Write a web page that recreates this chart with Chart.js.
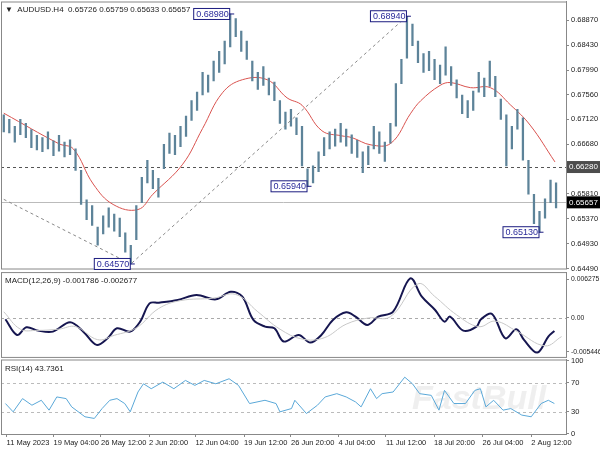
<!DOCTYPE html>
<html>
<head>
<meta charset="utf-8">
<script src="https://cdn.jsdelivr.net/npm/chart.js@4.4.0/dist/chart.umd.min.js"></script>
<style>
  body { margin: 0; background: #fff; width: 600px; height: 450px; overflow: hidden; position: relative; }
  canvas { position: absolute; left: 0; }
</style>
</head>
<body>
<canvas id="main" width="600" height="280" style="top:-5px"></canvas>
<canvas id="macd" width="600" height="97" style="top:266px"></canvas>
<canvas id="rsi" width="600" height="97" style="top:353px"></canvas>
<script>
// price bars, in pips above 0.6000 (e.g. 705 = 0.6705)
const barLow = [690,688,672,685,680,662,658,655,660,648,656,646,650,622,562,535,525,490,510,522,
  515,505,478,457,500,565,600,590,575,625,652,650,664,682,710,728,755,760,780,795,
  810,840,858,832,818,780,765,772,755,745,705,695,700,685,630,594,600,620,648,660,
  665,672,665,652,645,618,632,660,652,638,670,700,775,820,842,812,795,798,782,775,
  790,772,750,722,715,728,760,752,770,752,712,630,660,695,640,580,528,513,538,565,556];
const barHigh = [720,712,700,712,705,694,684,680,690,674,684,672,676,660,622,570,560,522,542,556,
  545,538,512,490,560,610,640,622,608,668,688,684,700,718,745,760,795,790,815,832,
  850,898,890,868,850,815,795,805,785,778,745,725,730,715,700,625,630,655,680,690,
  695,705,695,685,675,655,665,700,690,672,705,775,818,894,880,850,828,832,818,808,
  840,805,782,755,745,762,795,785,815,788,748,720,700,730,715,640,580,550,572,605,600];

// moving average (bar index, pips)
const maIdx = [0, 10, 12.6, 16.2, 19.8, 24.3, 27, 32.4, 36, 39.6, 43.2, 47.7, 51.3, 54, 57.6, 61.2, 63, 66.5, 70.1, 73.7, 75.5, 79, 80.9, 84.5, 88.1, 91.7, 95.3, 99.8];
const maVal = [723, 669, 660, 598, 562, 553, 580, 633, 696, 759, 782, 782, 750, 737, 692, 683, 680, 667, 670, 723, 745, 772, 777, 768, 768, 738, 702, 637];

// MACD main and signal (units of 0.0001)
const macdIdx = [0.3,2.4,4.1,6.2,8.9,12,14.4,16.8,18.8,20.5,22.9,24.7,26.4,28.1,31.5,34.9,38.4,41.1,43.2,45.2,47.3,49,50.7,53.4,55.5,57.5,59.6,62,63.7,65.8,67.8,70.5,73.6,75.7,78.1,79.8,80.8,83.2,85.6,86.4,88.4,90.8,92.8,94.2,96.6,98.6,99.7];
const macdVal = [-2.1,-27.4,-15,-20.4,-22,-6.9,-22,-43.4,-32.7,-16.6,-22,-5.9,23.6,24.7,29,37,30,42.3,34.3,-3.2,-14,-16.6,-38,-27.4,-39.7,-27.4,-3.2,9.1,2.1,-11.3,2.1,10.2,63.8,34.3,12.9,-5.9,2.1,-20.4,-14,-2.1,6.4,-32.7,-18.2,-35.4,-55.8,-30,-20.9];
const sigIdx = [0, 3, 6, 10, 13, 17, 20, 24, 28, 32, 38, 42, 46, 50, 54, 58, 62, 66, 70, 75, 78, 82, 86, 89, 93, 98, 101];
const sigVal = [10, -18, -20, -18, -14, -35, -28, -16, 15, 28, 32, 38, 10, -18, -34, -32, -10, 0, 2, 55, 35, 5, -14, -5, -22, -45, -30];

// RSI(14)
const rsiIdx = [0.3,1.7,3.4,5.1,6.8,8.2,9.6,11.3,12.3,14.7,16.4,17.8,19.2,20.5,21.9,22.9,24.3,25.3,26.7,28.8,30.8,32.9,34.6,36.3,38.4,40.8,42.5,44.5,47.3,49.3,50,52.1,52.7,54.8,56.8,58.2,60.3,62,63.7,64.7,66.4,67.5,68.5,70.5,72.6,74,75.3,77.4,78.8,79.8,81.5,83.6,85.3,86.3,87.3,88.7,90.4,91.8,93.8,95.5,97.3,98.6,99.7];
const rsiVal = [41.4,30,48.2,39.1,45.9,32.3,50.5,48.2,36.8,23.2,20.9,34.5,45.9,48.2,41.4,30,57.3,68.6,61.8,70.9,61.8,73.2,66.4,73.2,68.6,75.5,66.4,41.4,45.9,41.4,30,34.5,45.9,27.7,39.1,50.5,55,50.5,43.6,36.8,61.8,48.2,55,57.3,77.7,68.6,55,52.7,32.3,59.5,41.4,41.4,59.5,61.8,36.8,45.9,32.3,34.5,25.5,23.2,41.4,45.9,41.4];

const priceTicks = [0.6449, 0.6493, 0.6537, 0.6581, 0.6668, 0.6712, 0.6756, 0.6799, 0.6843, 0.6887];
const timeIdx = [0.5, 9, 17.6, 26.3, 34.7, 43.5, 52, 60.6, 69.2, 77.9, 86.7, 95.5];
const timeLabels = ['11 May 2023', '19 May 04:00', '26 May 12:00', '2 Jun 20:00', '12 Jun 04:00', '19 Jun 12:00',
  '26 Jun 20:00', '4 Jul 04:00', '11 Jul 12:00', '18 Jul 20:00', '26 Jul 04:00', '2 Aug 12:00'];

// swing labels: bar index, price
const swingIdx = [41, 23, 55, 73, 97];
const swingPrice = [0.6898, 0.6457, 0.6594, 0.6894, 0.6513];
// zigzag dashed line
const zigIdx = [0, 23, 73];
const zigPrice = [0.6571, 0.6457, 0.6894];

const LEVEL_LINE = 0.6628;
const LAST_PRICE = 0.65657;

const FAMILY = "'Liberation Sans', Arial, sans-serif";
const FONT = { family: FAMILY, size: 7.5 };
const AXIS_COLOR = '#888';
const X_MIN = -0.5, X_MAX = 101.8;

const px = v => 0.6 + v / 10000;

function xAxis(show) {
    return {
        type: 'linear', min: X_MIN, max: X_MAX, display: show, offset: false,
        afterBuildTicks: a => { a.ticks = timeIdx.map(v => ({ value: v })); },
        afterFit: s => { if (show) s.height = 16; },
        ticks: { color: '#222', font: FONT, autoSkip: false, maxRotation: 0, align: 'start', padding: 1,
            callback: (v, i) => timeLabels[i] },
        grid: { drawOnChartArea: false, tickLength: 3, color: AXIS_COLOR, offset: false },
        border: { color: AXIS_COLOR },
    };
}

function yAxis(min, max, ticks, fmt, size) {
    return {
        position: 'right', min, max,
        afterBuildTicks: a => { a.ticks = ticks.map(v => ({ value: v })); },
        afterFit: s => { s.width = 34; },
        ticks: { color: '#222', font: { family: FAMILY, size: size || 7.5 }, padding: 2, callback: fmt },
        grid: { drawOnChartArea: false, tickLength: 3, color: AXIS_COLOR },
        border: { color: AXIS_COLOR },
    };
}

const frame = {
    id: 'frame',
    afterDraw(chart) {
        const { ctx, chartArea: a } = chart;
        ctx.save();
        ctx.strokeStyle = AXIS_COLOR;
        ctx.lineWidth = 1;
        ctx.strokeRect(a.left + 0.5, a.top + 0.5, a.right - a.left, a.bottom - a.top);
        ctx.restore();
    }
};

function hLine(chart, val, dash, color) {
    const { ctx, chartArea: a, scales: { y } } = chart;
    const yy = Math.round(y.getPixelForValue(val)) + 0.5;
    ctx.save();
    ctx.strokeStyle = color;
    ctx.lineWidth = 1;
    ctx.setLineDash(dash);
    ctx.beginPath(); ctx.moveTo(a.left, yy); ctx.lineTo(a.right, yy); ctx.stroke();
    ctx.restore();
}

function title(chart, text, x, dy) {
    const ctx = chart.ctx;
    ctx.save();
    ctx.fillStyle = '#222';
    ctx.font = "8px " + FAMILY;
    ctx.textBaseline = 'middle';
    ctx.fillText(text, x, chart.chartArea.top + dy);
    ctx.restore();
}

function priceBox(chart, val, text, bg) {
    const { ctx, chartArea: a, scales: { y } } = chart;
    const yy = y.getPixelForValue(val);
    ctx.save();
    ctx.fillStyle = bg;
    ctx.fillRect(a.right + 1, yy - 6, 33, 12);
    ctx.fillStyle = '#fff';
    ctx.font = "8px " + FAMILY;
    ctx.textBaseline = 'middle';
    ctx.fillText(text, a.right + 3, yy);
    ctx.restore();
}

const mainDeco = {
    id: 'mainDeco',
    beforeDatasetsDraw(chart) {
        hLine(chart, LEVEL_LINE, [3, 3], '#555');
        hLine(chart, LAST_PRICE, [], '#bbb');
    },
    afterDraw(chart) {
        const { ctx, scales: { x, y } } = chart;
        title(chart, '\u25BC  AUDUSD.H4  0.65726 0.65759 0.65633 0.65657', 5, 8);
        priceBox(chart, LEVEL_LINE, '0.66280', '#4d4d4d');
        priceBox(chart, LAST_PRICE, '0.65657', '#000');
        ctx.save();
        ctx.font = "9px " + FAMILY;
        ctx.textBaseline = 'middle';
        swingIdx.forEach((idx, i) => {
            const xx = x.getPixelForValue(idx) + 2;
            let yy = y.getPixelForValue(swingPrice[i]);
            const txt = swingPrice[i].toFixed(5);
            const w = 36, left = xx - w - 3;
            yy = Math.max(y.top + 6, Math.min(y.bottom - 4, yy));
            ctx.strokeStyle = '#1c1c80';
            ctx.lineWidth = 1;
            ctx.beginPath(); ctx.moveTo(left + w, yy); ctx.lineTo(xx + 2, yy); ctx.stroke();
            ctx.fillStyle = '#fff';
            ctx.fillRect(left, yy - 6, w, 12);
            ctx.strokeRect(left + 0.5, yy - 5.5, w, 11);
            ctx.fillStyle = '#2a2a9a';
            ctx.fillText(txt, left + 3, yy + 0.5);
        });
        ctx.restore();
    }
};

new Chart(document.getElementById('main'), {
    data: {
        datasets: [
            {
                type: 'line', data: zigIdx.map((v, i) => ({ x: v, y: zigPrice[i] })),
                borderColor: '#888', borderWidth: 1, borderDash: [3, 3], pointRadius: 0,
            },
            {
                type: 'bar', data: barLow.map((v, i) => ({ x: i, y: [px(v), px(barHigh[i])] })),
                backgroundColor: '#5d8399', barThickness: 1.6, borderSkipped: false,
            },
            {
                type: 'line', data: maIdx.map((v, i) => ({ x: v, y: px(maVal[i]) })),
                borderColor: '#d9534f', borderWidth: 1, pointRadius: 0, tension: 0.4,
            },
        ],
    },
    options: {
        responsive: false, animation: false,
        layout: { padding: { top: 0, bottom: 0, left: 1, right: 0 } },
        plugins: { legend: { display: false }, tooltip: { enabled: false } },
        scales: { x: xAxis(false), y: yAxis(0.6449, 0.6920, priceTicks, v => v.toFixed(5)) },
    },
    plugins: [frame, mainDeco],
});

new Chart(document.getElementById('macd'), {
    type: 'line',
    data: {
        datasets: [
            { data: sigIdx.map((v, i) => ({ x: v, y: sigVal[i] })), borderColor: '#c8c8c8', borderWidth: 1, pointRadius: 0, tension: 0.4 },
            { data: macdIdx.map((v, i) => ({ x: v, y: macdVal[i] })), borderColor: '#161650', borderWidth: 2, pointRadius: 0, tension: 0.35 },
        ],
    },
    options: {
        responsive: false, animation: false,
        layout: { padding: { top: 0, bottom: 0, left: 1, right: 0 } },
        plugins: { legend: { display: false }, tooltip: { enabled: false } },
        scales: {
            x: xAxis(false),
            y: yAxis(-62.8, 74, [62.75, 0, -54.46], v => v === 0 ? '0.00' : (v / 10000).toFixed(6), 6.8),
        },
    },
    plugins: [frame, {
        id: 'macdDeco',
        beforeDatasetsDraw: c => hLine(c, 0, [3, 3], '#aaa'),
        afterDraw: c => title(c, 'MACD(12,26,9) -0.001786 -0.002677', 5, 9),
    }],
});

new Chart(document.getElementById('rsi'), {
    type: 'line',
    data: {
        datasets: [
            { data: rsiIdx.map((v, i) => ({ x: v, y: rsiVal[i] })), borderColor: '#5aa8d8', borderWidth: 1, pointRadius: 0, tension: 0 },
        ],
    },
    options: {
        responsive: false, animation: false,
        layout: { padding: { top: 0, bottom: 0, left: 1, right: 0 } },
        plugins: { legend: { display: false }, tooltip: { enabled: false } },
        scales: { x: xAxis(true), y: yAxis(-0.5, 102, [0, 30, 70, 100], v => String(v)) },
    },
    plugins: [frame, {
        id: 'rsiDeco',
        beforeDatasetsDraw(c) {
            hLine(c, 70, [3, 3], '#bbb');
            hLine(c, 30, [3, 3], '#bbb');
            const ctx = c.ctx;
            ctx.save();
            ctx.fillStyle = 'rgba(225,225,225,0.55)';
            ctx.font = "bold italic 34px " + FAMILY;
            ctx.textBaseline = 'middle';
            ctx.fillText('FastBull', 412, c.chartArea.top + 40);
            ctx.restore();
        },
        afterDraw: c => title(c, 'RSI(14) 43.7361', 5, 9),
    }],
});
</script>
</body>
</html>
